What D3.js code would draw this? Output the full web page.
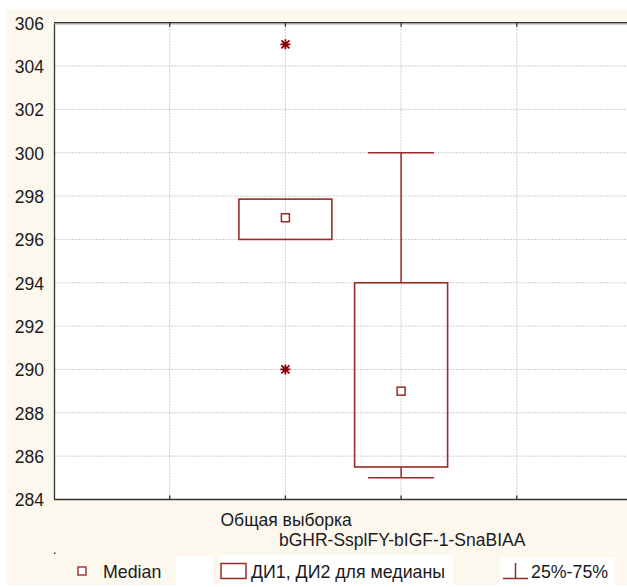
<!DOCTYPE html>
<html>
<head>
<meta charset="utf-8">
<script src="https://cdn.jsdelivr.net/npm/d3@7.9.0/dist/d3.min.js"></script>
<style>
  body { margin: 0; background: #fff; }
  svg text { font-family: "Liberation Sans", Arial, sans-serif; fill: #1a1a22; }
</style>
</head>
<body>
<svg id="chart" width="627" height="587"></svg>
<script>
// Groups (x positions on a 0..5 band axis)
const groups = ["Общая выборка", "bGHR-SsplFY-bIGF-1-SnaBIAA"];
const groupPos = [2, 3];
const medians = [297, 289];
const q1 = [296, 285.5];
const q3 = [297.86, 294];
const whiskLo = [296, 285];
const whiskHi = [297.86, 300];
const outliers = [[305, 290], []];
const yTicks = [284, 286, 288, 290, 292, 294, 296, 298, 300, 302, 304, 306];
const xGrid = [0, 1, 2, 3, 4, 5];

const svg = d3.select("#chart"),
      margin = {top: 22.7, left: 54, bottom: 499.5},
      W = 627, H = 587;

const red = "#9a2b2b";
const dark = "#333";

// cream frame background
svg.append("rect").attr("x", 7).attr("y", 10).attr("width", W - 7).attr("height", H - 12)
   .attr("fill", "#fdf8ee");

const x = d3.scaleLinear().domain([0, 5]).range([margin.left, margin.left + 5 * 115.7]);
const y = d3.scaleLinear().domain([284, 306]).range([margin.bottom, margin.top]);

// plot area
svg.append("rect").attr("x", x(0)).attr("y", y(306))
   .attr("width", x(5) - x(0)).attr("height", y(284) - y(306)).attr("fill", "#fff");

// grid
svg.append("g").selectAll("line").data(yTicks.slice(1, -1)).join("line")
   .attr("x1", x(0)).attr("x2", x(5))
   .attr("y1", d => y(d)).attr("y2", d => y(d))
   .attr("stroke", "#cdcdcd").attr("stroke-dasharray", "2,1");
svg.append("g").selectAll("line").data(xGrid.slice(1)).join("line")
   .attr("x1", d => x(d)).attr("x2", d => x(d))
   .attr("y1", y(306)).attr("y2", y(284))
   .attr("stroke", "#cdcdcd").attr("stroke-dasharray", "2,1");

// axes
const yAxis = svg.append("g").attr("transform", `translate(${x(0)},0)`)
  .call(d3.axisLeft(y).tickValues(yTicks).tickSize(0).tickPadding(10));
yAxis.select(".domain").attr("stroke", dark).attr("stroke-width", 1.3);
yAxis.selectAll("text").style("font-size", "17.5px").attr("dy", "0.36em").attr("fill", "#1a1a22");

svg.append("line").attr("x1", x(0)).attr("x2", W).attr("y1", y(306)).attr("y2", y(306))
   .attr("stroke", dark).attr("stroke-width", 1.5);
svg.append("line").attr("x1", x(0)).attr("x2", W).attr("y1", y(306) + 1.3).attr("y2", y(306) + 1.3)
   .attr("stroke", "#aaa").attr("stroke-width", 1);
svg.append("line").attr("x1", x(0)).attr("x2", W).attr("y1", y(284)).attr("y2", y(284))
   .attr("stroke", dark).attr("stroke-width", 1.3);

// x ticks (inward, top and bottom)
svg.append("g").selectAll("line").data(xGrid.slice(1)).join("line")
   .attr("x1", d => x(d)).attr("x2", d => x(d))
   .attr("y1", y(284)).attr("y2", y(284) - 4)
   .attr("stroke", dark).attr("stroke-width", 1.3);
svg.append("g").selectAll("line").data(xGrid.slice(1)).join("line")
   .attr("x1", d => x(d)).attr("x2", d => x(d))
   .attr("y1", y(306)).attr("y2", y(306) + 4)
   .attr("stroke", dark).attr("stroke-width", 1.3);

// x labels
svg.append("text").attr("x", 220.5).attr("y", 526).style("font-size", "17.5px").text(groups[0]);
svg.append("text").attr("x", 279).attr("y", 546).style("font-size", "17.5px").text(groups[1]);

// boxes
const boxW = 93, capW = 66;
groups.forEach((g, i) => {
  const cx = x(groupPos[i]);
  const gg = svg.append("g");
  if (whiskHi[i] > q3[i]) {
    gg.append("line").attr("x1", cx).attr("x2", cx).attr("y1", y(whiskHi[i])).attr("y2", y(q3[i]))
      .attr("stroke", red).attr("stroke-width", 1.5);
    gg.append("line").attr("x1", cx - capW / 2).attr("x2", cx + capW / 2)
      .attr("y1", y(whiskHi[i])).attr("y2", y(whiskHi[i])).attr("stroke", red).attr("stroke-width", 1.5);
  }
  if (whiskLo[i] < q1[i]) {
    gg.append("line").attr("x1", cx).attr("x2", cx).attr("y1", y(q1[i])).attr("y2", y(whiskLo[i]))
      .attr("stroke", red).attr("stroke-width", 1.5);
    gg.append("line").attr("x1", cx - capW / 2).attr("x2", cx + capW / 2)
      .attr("y1", y(whiskLo[i])).attr("y2", y(whiskLo[i])).attr("stroke", red).attr("stroke-width", 1.5);
  }
  gg.append("rect").attr("x", cx - boxW / 2).attr("y", y(q3[i]))
    .attr("width", boxW).attr("height", y(q1[i]) - y(q3[i]))
    .attr("fill", "none").attr("stroke", red).attr("stroke-width", 1.6);
  gg.append("rect").attr("x", cx - 4).attr("y", y(medians[i]) - 4).attr("width", 8).attr("height", 8)
    .attr("fill", "#fff").attr("stroke", red).attr("stroke-width", 1.5);
  outliers[i].forEach(v => {
    gg.append("path").attr("transform", `translate(${cx},${y(v)})`)
      .attr("d", "M-5,0H5M0,-5V5M-4,-4L4,4M-4,4L4,-4")
      .attr("stroke", "#8b0000").attr("stroke-width", 1.8);
  });
});

// legend
svg.append("rect").attr("x", 54).attr("y", 552.5).attr("width", 1.5).attr("height", 1.5).attr("fill", "#333");
svg.append("rect").attr("x", 176).attr("y", 556).attr("width", 37).attr("height", 29).attr("fill", "#fff");
svg.append("rect").attr("x", 220).attr("y", 555).attr("width", 233).attr("height", 30).attr("fill", "#fff");
svg.append("rect").attr("x", 500).attr("y", 557).attr("width", 115).attr("height", 28).attr("fill", "#fff");

svg.append("rect").attr("x", 78).attr("y", 567).attr("width", 8).attr("height", 8)
   .attr("fill", "#fff").attr("stroke", red).attr("stroke-width", 1.4);
svg.append("text").attr("x", 103).attr("y", 578).style("font-size", "17.8px").text("Median");

svg.append("rect").attr("x", 221).attr("y", 563.5).attr("width", 25).attr("height", 15)
   .attr("fill", "none").attr("stroke", red).attr("stroke-width", 1.5);
svg.append("text").attr("x", 251).attr("y", 578).style("font-size", "17.8px").text("ДИ1, ДИ2 для медианы");

svg.append("path").attr("d", "M503,578.5H528M515.5,578.5V563")
   .attr("fill", "none").attr("stroke", red).attr("stroke-width", 1.5);
svg.append("text").attr("x", 531).attr("y", 578).style("font-size", "17.8px").text("25%-75%");
</script>
</body>
</html>
